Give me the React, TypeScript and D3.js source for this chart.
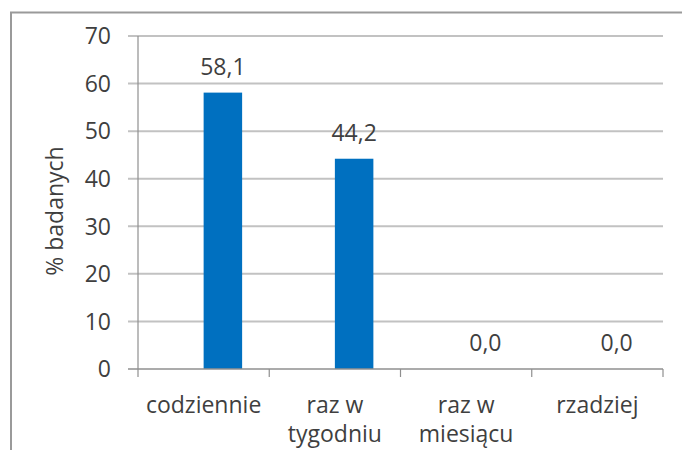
import React from "react";
import * as d3 from "d3";

const categories: string[][] = [["codziennie"], ["raz w", "tygodniu"], ["raz w", "miesiącu"], ["rzadziej"]];
const values: number[] = [58.1, 44.2, 0.0, 0.0];
const yTicks: number[] = [0, 10, 20, 30, 40, 50, 60, 70];
const yTitle = "% badanych";

const W = 682;
const H = 450;
const FONT = "'Open Sans', sans-serif";
const TEXT = "#3f3f3f";
const FS = 23;

export default function App() {
  const x0 = 138, x1 = 663, y0 = 369, y1 = 36;
  const x = d3.scaleBand<number>().domain(d3.range(categories.length)).range([x0, x1]);
  const y = d3.scaleLinear().domain([0, 70]).range([y0, y1]);
  const barW = 38.5;
  const fmt = (v: number) => v.toFixed(1).replace(".", ",");

  return (
    <svg width={W} height={H} style={{ position: "absolute", left: 0, top: 0 }}>
      <rect x={0} y={0} width={W} height={H} fill="#fff" />
      {/* outer frame */}
      <path d={`M11,${H + 5} L11,12.5 L${W + 5},12.5`} fill="none" stroke="#9a9a9a" strokeWidth={2} />
      {/* gridlines */}
      {yTicks.filter((t) => t > 0).map((t) => (
        <line key={t} x1={x0 - 10} x2={x1} y1={y(t)} y2={y(t)} stroke="#c2c2c2" strokeWidth={2} />
      ))}
      {/* y axis */}
      <line x1={x0} x2={x0} y1={y(70)} y2={y0} stroke="#8f8f8f" strokeWidth={1.2} />
      {/* bars */}
      {values.map((v, i) => (
        <rect key={i} x={(x(i) as number) + x.bandwidth() / 2} y={y(v)} width={barW} height={y0 - y(v)} fill="#0070c0" />
      ))}
      {/* x axis */}
      <line x1={x0 - 10} x2={x1} y1={y0} y2={y0} stroke="#8f8f8f" strokeWidth={1.5} />
      {d3.range(categories.length + 1).map((i) => {
        const xx = x0 + i * x.bandwidth();
        return <line key={i} x1={xx} x2={xx} y1={y0} y2={y0 + 8} stroke="#8f8f8f" strokeWidth={1.2} />;
      })}
      {/* y tick labels */}
      {yTicks.map((t) => (
        <text key={t} x={111} y={y(t)} dy="0.36em" textAnchor="end" fontFamily={FONT} fontSize={FS} fill={TEXT}>
          {t}
        </text>
      ))}
      {/* value labels */}
      {values.map((v, i) => (
        <text key={i} x={(x(i) as number) + x.bandwidth() / 2 + barW / 2} y={y(v) - 18} textAnchor="middle" fontFamily={FONT} fontSize={FS} fill={TEXT}>
          {fmt(v)}
        </text>
      ))}
      {/* category labels */}
      {categories.map((lines, i) => (
        <text key={i} x={(x(i) as number) + x.bandwidth() / 2} y={413} textAnchor="middle" fontFamily={FONT} fontSize={FS} fill={TEXT}>
          {lines.map((l, j) => (
            <tspan key={j} x={(x(i) as number) + x.bandwidth() / 2} dy={j === 0 ? 0 : 29}>
              {l}
            </tspan>
          ))}
        </text>
      ))}
      {/* y title */}
      <text transform={`translate(63,211) rotate(-90)`} textAnchor="middle" fontFamily={FONT} fontSize={FS} fill={TEXT}>
        {yTitle}
      </text>
    </svg>
  );
}
